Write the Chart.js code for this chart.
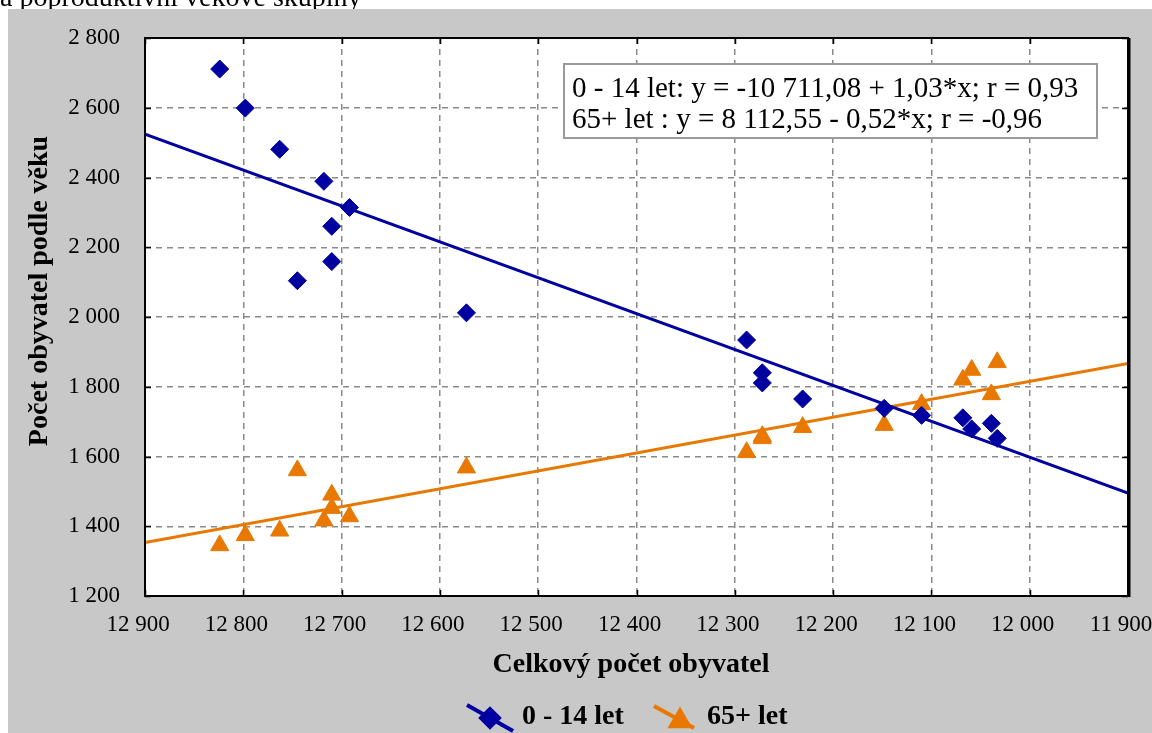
<!DOCTYPE html>
<html><head><meta charset="utf-8">
<script src="https://cdn.jsdelivr.net/npm/chart.js@4.4.0/dist/chart.umd.min.js"></script>
<style>html,body{margin:0;padding:0;background:#fff;overflow:hidden}#wrap{position:absolute;left:0;top:0;width:1152px;height:733px}</style>
</head><body><div id="wrap"><canvas id="c" width="1152" height="733"></canvas></div>
<script>
// ---- data ----
const totalPop = [12824, 12798, 12763, 12745, 12718, 12710, 12710, 12692, 12573, 12288, 12272, 12272, 12231, 12148, 12110, 12068, 12059, 12039, 12033];
const kids     = [2711, 2599, 2481, 2104, 2389, 2260, 2159, 2314, 2012, 1934, 1840, 1811, 1765, 1738, 1718, 1711, 1679, 1695, 1652];
const seniors  = [1345, 1374, 1387, 1560, 1416, 1490, 1452, 1428, 1568, 1612, 1652, 1658, 1684, 1690, 1750, 1820, 1848, 1778, 1870];
const fitX       = [12900, 11900];
const fitKids    = [2524, 1495];
const fitSeniors = [1353, 1867];
const xRange = [11900, 12900], xStep = 100;
const yRange = [1200, 2800], yStep = 200;
const seriesNames = ['0 - 14 let', '65+ let'];
const eqLines = ['0 - 14 let: y = -10 711,08 + 1,03*x; r = 0,93', '65+ let : y = 8 112,55 - 0,52*x; r = -0,96'];
const xTitle = 'Celkový počet obyvatel';
const yTitle = 'Počet obyvatel podle věku';
const topText = 'a poproduktivní věkové skupiny';

const BLUE = '#0000a0', ORANGE = '#e87800';
const fmt = v => String(v).replace(/\B(?=(\d{3})+(?!\d))/g, ' ');
const SERIF = '"Liberation Serif", "Times New Roman", serif';

function tickVals(r, s) { const o = []; for (let v = r[0]; v <= r[1]; v += s) o.push(v); return o; }

const deco = {
  id: 'deco',
  beforeDraw(chart) {
    const {ctx, chartArea: a} = chart;
    ctx.save();
    ctx.fillStyle = '#fff'; ctx.fillRect(0, 0, chart.width, chart.height);
    ctx.fillStyle = '#000'; ctx.font = '28px ' + SERIF; ctx.textAlign = 'left'; ctx.textBaseline = 'alphabetic';
    ctx.fillText(topText, 0, 6);
    ctx.fillStyle = '#c8c8c8'; ctx.fillRect(8, 9, chart.width - 8, chart.height - 9);
    ctx.fillStyle = '#fff'; ctx.fillRect(a.left, a.top, a.right - a.left, a.bottom - a.top);
    ctx.restore();
  },
  afterDraw(chart) {
    const {ctx, chartArea: a, scales} = chart;
    const xs = scales.x, ys = scales.y;
    ctx.save();
    // annotation box
    ctx.fillStyle = '#fff'; ctx.fillRect(564, 64, 533, 74);
    ctx.strokeStyle = '#9a9a9a'; ctx.lineWidth = 2; ctx.strokeRect(564, 64, 533, 74);
    ctx.fillStyle = '#000'; ctx.font = '29px ' + SERIF; ctx.textAlign = 'left'; ctx.textBaseline = 'alphabetic';
    ctx.fillText(eqLines[0], 572, 97);
    ctx.fillText(eqLines[1], 572, 128);
    // frame
    ctx.strokeStyle = '#000'; ctx.lineWidth = 2;
    ctx.strokeRect(a.left, a.top, a.right - a.left, a.bottom - a.top);
    ctx.lineWidth = 3; ctx.beginPath(); ctx.moveTo(a.right + 1, a.top); ctx.lineTo(a.right + 1, a.bottom + 1); ctx.stroke();
    ctx.lineWidth = 1.5;
    ctx.beginPath();
    tickVals(xRange, xStep).forEach(v => {
      const p = Math.round(xs.getPixelForValue(v)) + 0.5;
      ctx.moveTo(p, a.bottom); ctx.lineTo(p, a.bottom - 6);
      ctx.moveTo(p, a.top); ctx.lineTo(p, a.top + 6);
    });
    tickVals(yRange, yStep).forEach(v => {
      const p = Math.round(ys.getPixelForValue(v)) + 0.5;
      ctx.moveTo(a.left, p); ctx.lineTo(a.left + 6, p);
      ctx.moveTo(a.right, p); ctx.lineTo(a.right - 6, p);
    });
    ctx.stroke();
    // axis titles
    ctx.fillStyle = '#000'; ctx.font = 'bold 28px ' + SERIF; ctx.textAlign = 'center'; ctx.textBaseline = 'middle';
    ctx.fillText(xTitle, 631, 665);
    ctx.save(); ctx.translate(40, 291); ctx.rotate(-Math.PI / 2); ctx.fillText(yTitle, 0, 0); ctx.restore();
    // legend
    const ds = chart.data.datasets;
    const items = [
      {x1: 467, y1: 705, x2: 513, y2: 731, mx: 490, my: 718, d: ds[0], label: seriesNames[0], tx: 522},
      {x1: 654, y1: 706, x2: 694, y2: 728, mx: 680, my: 721, d: ds[1], label: seriesNames[1], tx: 707}
    ];
    items.forEach(it => {
      ctx.strokeStyle = it.d.borderColor; ctx.lineWidth = 4; ctx.lineCap = 'butt';
      ctx.beginPath(); ctx.moveTo(it.x1, it.y1); ctx.lineTo(it.x2, it.y2); ctx.stroke();
      ctx.fillStyle = it.d.backgroundColor;
      Chart.helpers.drawPoint(ctx, {pointStyle: it.d.pointStyle, radius: it.d.pointRadius, rotation: 0, borderWidth: 1}, it.mx, it.my);
      ctx.fill();
      ctx.fillStyle = '#000'; ctx.textAlign = 'left'; ctx.textBaseline = 'middle';
      ctx.fillText(it.label, it.tx, 717);
    });
    ctx.restore();
  }
};

const tickFont = {family: SERIF, size: 23};
new Chart(document.getElementById('c'), {
  type: 'scatter',
  data: {
    datasets: [
      {label: seriesNames[0], data: totalPop.map((x, i) => ({x, y: kids[i]})), pointStyle: 'rectRot', pointRadius: 9, pointHoverRadius: 9,
       backgroundColor: BLUE, borderColor: BLUE, borderWidth: 1, order: 0},
      {label: seriesNames[1], data: totalPop.map((x, i) => ({x, y: seniors[i]})), pointStyle: 'triangle', pointRadius: 10.5, pointHoverRadius: 10.5,
       backgroundColor: ORANGE, borderColor: ORANGE, borderWidth: 1, order: 0},
      {type: 'line', label: 'fit1', data: fitX.map((x, i) => ({x, y: fitKids[i]})), borderColor: BLUE, borderWidth: 3, pointRadius: 0, fill: false, order: 1},
      {type: 'line', label: 'fit2', data: fitX.map((x, i) => ({x, y: fitSeniors[i]})), borderColor: ORANGE, borderWidth: 3, pointRadius: 0, fill: false, order: 1}
    ]
  },
  options: {
    responsive: false, animation: false, devicePixelRatio: 1,
    layout: {padding: {left: 8, top: 38, right: 24, bottom: 77}},
    plugins: {legend: {display: false}, tooltip: {enabled: false}},
    scales: {
      x: {type: 'linear', reverse: true, min: xRange[0], max: xRange[1],
          ticks: {stepSize: xStep, callback: fmt, font: tickFont, color: '#000', padding: 15, maxRotation: 0, autoSkip: false, labelOffset: -7},
          grid: {color: '#8a8a8a', lineWidth: 1.5, drawTicks: false},
          border: {display: false, dash: [6, 5]},
          afterFit: s => { s.height = 60; s.paddingLeft = 0; s.paddingRight = 0; }},
      y: {type: 'linear', min: yRange[0], max: yRange[1],
          ticks: {stepSize: yStep, callback: fmt, font: tickFont, color: '#000', padding: 25, autoSkip: false},
          grid: {color: '#8a8a8a', lineWidth: 1.5, drawTicks: false},
          border: {display: false, dash: [6, 5]},
          afterFit: s => { s.width = 137; s.paddingTop = 0; s.paddingBottom = 0; }}
    }
  },
  plugins: [deco]
});
</script></body></html>
